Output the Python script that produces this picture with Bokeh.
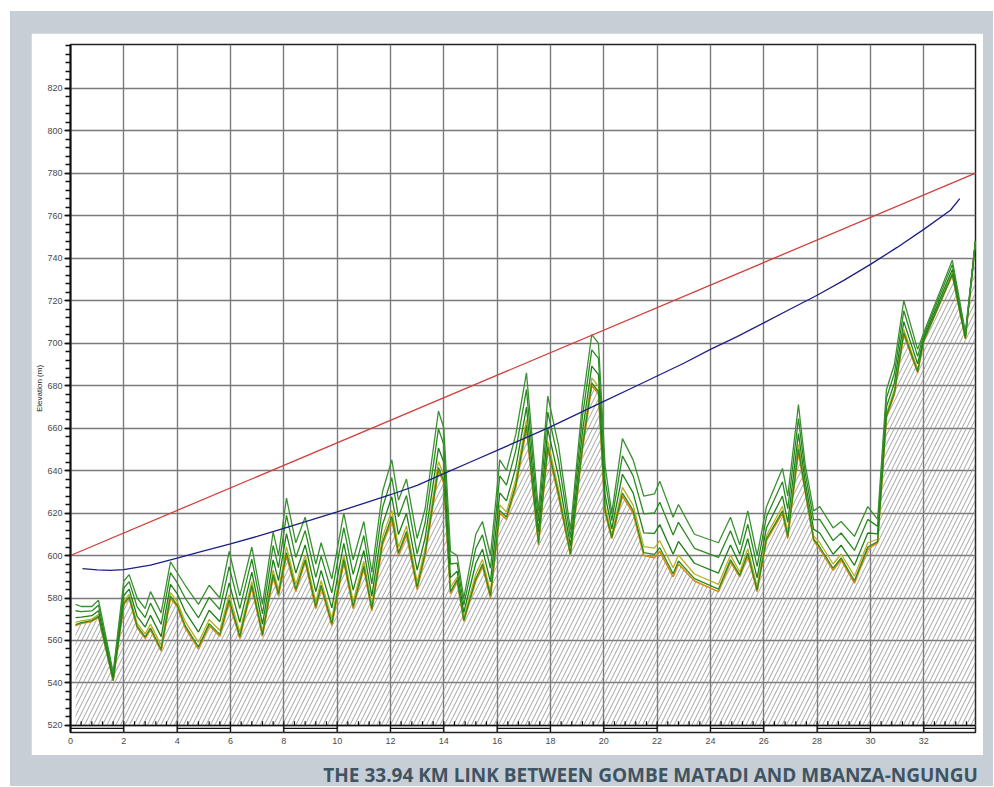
import numpy as np
from bokeh.plotting import figure
from bokeh.models import Range1d, FixedTicker, Label, Span
from bokeh.layouts import column
from bokeh.embed import file_html
from bokeh.resources import INLINE

# ---------------- data ----------------
dist_km = [0.19, 0.4, 0.8, 1.05, 1.6, 2.0, 2.2, 2.5, 2.8, 3.0, 3.4, 3.75, 4.0, 4.3, 4.8,
           5.2, 5.6, 5.95, 6.35, 6.8, 7.2, 7.6, 7.8, 8.1, 8.45, 8.8, 9.2, 9.4, 9.8, 10.25,
           10.6, 11.0, 11.3, 11.7, 12.05, 12.3, 12.6, 13.0, 13.3, 13.8, 14.0, 14.25, 14.5,
           14.75, 15.2, 15.45, 15.75, 16.1, 16.35, 16.7, 17.1, 17.55, 17.9, 18.3, 18.75,
           19.2, 19.55, 19.8, 20.05, 20.3, 20.7, 21.1, 21.5, 21.9, 22.1, 22.6, 22.8, 23.4,
           24.3, 24.75, 25.1, 25.4, 25.75, 26.1, 26.7, 26.9, 27.3, 27.55, 27.87, 28.1, 28.6,
           28.9, 29.4, 29.9, 30.27, 30.6, 30.9, 31.25, 31.77, 32.0, 33.07, 33.56, 33.94]
ground_low = [567, 568, 569, 571, 541, 577, 580, 566, 561, 565, 555, 580, 576, 566, 556,
              567, 562, 578, 561, 585, 562, 590, 581, 600, 583, 597, 575, 585, 567, 597,
              575, 594, 574, 605, 617, 600, 610, 584, 600, 640, 634, 582, 588,
              569, 588, 595, 580, 620, 617, 632, 660, 605, 650, 628, 600,
              650, 680, 676, 620, 608, 628, 620, 600, 599, 602, 590, 596, 588,
              583, 597, 590, 600, 583, 607, 620, 608, 649, 630, 607, 603, 593,
              598, 587, 603, 606, 665, 676, 704, 686, 701, 732, 702, 748]
ground_top = [577, 576, 576, 579, 545, 588, 591, 580, 575, 583, 573, 597, 592, 586, 577,
              586, 580, 602, 581, 604, 577, 611, 600, 627, 606, 618, 596, 606, 589, 620,
              598, 616, 592, 630, 645, 626, 636, 608, 622, 668, 660, 602, 600,
              580, 610, 616, 600, 645, 640, 657, 686, 621, 675, 652, 612,
              672, 704, 700, 642, 620, 655, 645, 628, 629, 635, 618, 624, 610,
              606, 618, 605, 621, 600, 623, 641, 628, 671, 643, 621, 623, 613,
              616, 609, 623, 617, 678, 690, 720, 697, 705, 739, 705, 748]
curve_km = [0.45, 1.0, 1.5, 2.0, 3.0, 4.0, 5.0, 6.0, 7.0, 8.0, 9.0, 10.0, 11.0, 12.0,
            13.0, 14.0, 15.0, 16.0, 17.0, 18.0, 19.0, 20.0, 21.0, 22.0, 23.0, 24.0, 25.0,
            26.0, 27.0, 28.0, 29.0, 30.0, 31.0, 32.0, 33.0, 33.35]
curve_elev = [593.8, 593.2, 593.0, 593.4, 595.5, 598.8, 602.2, 605.5, 609.0, 612.8, 616.6,
              620.5, 624.5, 628.6, 633.0, 638.5, 644.0, 649.5, 655.0, 660.5, 666.5, 672.5,
              678.5, 684.5, 690.5, 697.0, 703.0, 709.5, 716.0, 722.5, 729.5, 737.0, 745.0,
              753.5, 762.5, 768.0]
los_km = [0.0, 33.94]
los_elev = [600.0, 780.0]
x_ticks = [0, 2, 4, 6, 8, 10, 12, 14, 16, 18, 20, 22, 24, 26, 28, 30, 32]
y_ticks = [520, 540, 560, 580, 600, 620, 640, 660, 680, 700, 720, 740, 760, 780, 800, 820]
caption = "THE 33.94 KM LINK BETWEEN GOMBE MATADI AND MBANZA-NGUNGU"

# ---------------- styling ----------------
GRAY_BG = "#c7ced5"
X_MAX = 33.94
Y_MIN, Y_MAX = 516.7, 840.5
BASE = 520.0

p = figure(width=952, height=722, x_range=Range1d(0, X_MAX), y_range=Range1d(Y_MIN, Y_MAX),
           output_backend="svg", toolbar_location=None,
           min_border_left=39, min_border_right=8, min_border_top=11, min_border_bottom=23,
           background_fill_color="white", border_fill_color="white",
           outline_line_color="#222222", outline_line_width=1.5,
           margin=(22, 0, 0, 21))

# axes
p.xaxis.ticker = FixedTicker(ticks=x_ticks)
p.xaxis.major_tick_out = 0
p.xaxis.major_tick_in = 0
p.xaxis.minor_tick_out = 0
p.xaxis.minor_tick_in = 0
p.xaxis.axis_line_color = None
p.xaxis.major_label_standoff = 5
p.xaxis.major_label_text_font = "Liberation Sans"
p.xaxis.major_label_text_font_size = "9px"
p.xaxis.major_label_text_color = "#4a4a4a"

p.yaxis.ticker = FixedTicker(ticks=y_ticks, minor_ticks=list(range(520, 841, 4)))
p.yaxis.axis_line_color = "#111111"
p.yaxis.axis_line_width = 2
p.yaxis.major_tick_out = 6
p.yaxis.major_tick_in = 0
p.yaxis.minor_tick_out = 5
p.yaxis.minor_tick_in = 0
p.yaxis.major_tick_line_color = "#111111"
p.yaxis.major_tick_line_width = 1.5
p.yaxis.minor_tick_line_color = "#111111"
p.yaxis.minor_tick_line_width = 1.5
p.yaxis.major_label_standoff = 2
p.yaxis.major_label_text_font = "Liberation Sans"
p.yaxis.major_label_text_font_size = "9px"
p.yaxis.major_label_text_color = "#4a4a4a"
p.yaxis.axis_label = "Elevation (m)"
p.yaxis.axis_label_standoff = 0
p.yaxis.axis_label_text_font = "Liberation Sans"
p.yaxis.axis_label_text_font_size = "8px"
p.yaxis.axis_label_text_font_style = "normal"
p.yaxis.axis_label_text_color = "#222222"

# grid
p.xgrid.ticker = FixedTicker(ticks=x_ticks)
p.ygrid.ticker = FixedTicker(ticks=y_ticks)
for g in (p.xgrid, p.ygrid):
    g.grid_line_color = "#7a7a7a"
    g.grid_line_width = 1.4
    g.grid_line_alpha = 1.0

# hatched ground
p.varea(x=dist_km, y1=BASE, y2=ground_low, fill_color="white", fill_alpha=0.0,
        hatch_pattern="/", hatch_scale=9, hatch_weight=0.8, hatch_color="#8a8a8a", hatch_alpha=1.0)

# terrain / clutter lines
low = np.array(ground_low, dtype=float)
top = np.array(ground_top, dtype=float)
p.line(dist_km, low, line_color="#d68a16", line_width=1.6)
p.line(dist_km, low + 0.15 * (top - low), line_color="#b8b020", line_width=1.3)
for frac, col in [(0.05, "#2c8c1c"), (0.38, "#1f7f17"), (0.7, "#2a8a20"), (1.0, "#3a9030")]:
    p.line(dist_km, low + frac * (top - low), line_color=col, line_width=1.3)

# curved (earth-bulge) line and straight line of sight
p.line(curve_km, curve_elev, line_color="#1c1f86", line_width=1.3)
p.line(los_km, los_elev, line_color="#d2403c", line_width=1.3)

# bottom distance ruler (alternating segments)
MID = 518.6
dark_left = x_ticks[0::2]
dark_right = [min(v + 2, X_MAX) for v in dark_left]
p.segment(x0=dark_left, y0=MID, x1=dark_right, y1=MID, line_color="#111111", line_width=1.2)
p.add_layout(Span(location=BASE, dimension="width", line_color="#111111", line_width=1.3))
p.segment(x0=x_ticks, y0=Y_MIN, x1=x_ticks, y1=BASE, line_color="#111111", line_width=1.2)
ruler_ticks = [round(v, 2) for v in np.arange(0.4, X_MAX, 0.4)]
p.segment(x0=ruler_ticks, y0=BASE, x1=ruler_ticks, y1=522.0, line_color="#111111", line_width=1.2)

# caption strip
CAP_W, CAP_H = 983, 31
cap = figure(width=CAP_W, height=CAP_H, output_backend="svg", toolbar_location=None,
             x_range=Range1d(0, CAP_W), y_range=Range1d(0, CAP_H),
             x_axis_type=None, y_axis_type=None,
             min_border=0, background_fill_color=GRAY_BG, border_fill_color=GRAY_BG,
             outline_line_color=None)
cap.grid.visible = False
cap.add_layout(Label(x=CAP_W - 8, y=12, text=caption,
                     text_align="right", text_baseline="middle",
                     text_font="Open Sans", text_font_style="bold",
                     text_font_size="19px", text_color="#3f5462"))

layout = column(p, cap, margin=(11, 0, 0, 10), spacing=0,
                styles={"background-color": GRAY_BG})

open("out.html", "w").write(file_html(layout, INLINE))
